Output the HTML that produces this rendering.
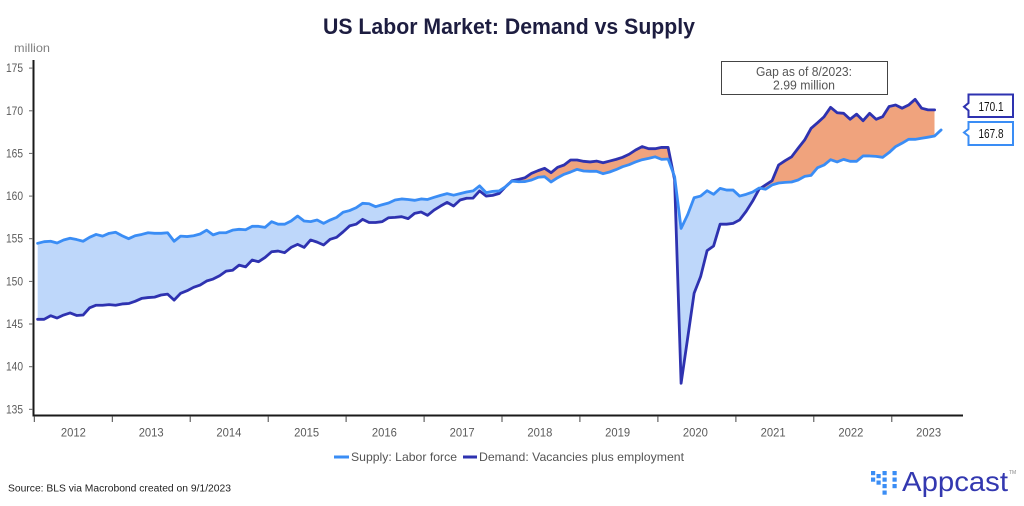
<!DOCTYPE html>
<html>
<head>
<meta charset="utf-8">
<style>
html,body{margin:0;padding:0;background:#fff;}
body{width:1024px;height:506px;overflow:hidden;}
svg{display:block;}
text{font-family:"Liberation Sans",Arial,sans-serif;}
</style>
</head>
<body>
<svg id="c" width="1024" height="506" viewBox="0 0 1024 506" xmlns="http://www.w3.org/2000/svg">
  <defs>
    <clipPath id="clipAboveD"><path id="aboveD" d=""/></clipPath>
    <clipPath id="clipAboveS"><path id="aboveS" d=""/></clipPath>
  </defs>

  <!-- Title -->
  <text x="509" y="34" text-anchor="middle" font-size="22" font-weight="bold" fill="#1d1d40" textLength="372" lengthAdjust="spacingAndGlyphs">US Labor Market: Demand vs Supply</text>

  <!-- unit -->
  <text x="14" y="52" font-size="12" fill="#808080" textLength="36" lengthAdjust="spacingAndGlyphs">million</text>

  <!-- fills -->
  <path id="underS" d="" fill="#bed7fa" clip-path="url(#clipAboveD)"/>
  <path id="underD" d="" fill="#f0a37d" clip-path="url(#clipAboveS)"/>

  <!-- series lines -->
  <path id="demLine" d="" fill="none" stroke="#2e32b0" stroke-width="2.8" stroke-linejoin="round" stroke-linecap="round"/>
  <path id="supLine" d="" fill="none" stroke="#3a8df5" stroke-width="2.8" stroke-linejoin="round" stroke-linecap="round"/>

  <!-- axes -->
  <line x1="33.5" y1="60" x2="33.5" y2="416.5" stroke="#1a1a1a" stroke-width="2"/>
  <line x1="32.5" y1="415.5" x2="963" y2="415.5" stroke="#1a1a1a" stroke-width="2"/>

  <g id="yax" font-size="11.5" fill="#5a5a5a"></g>
  <g id="xax" font-size="11.5" fill="#5a5a5a"></g>

  <!-- Gap annotation -->
  <rect x="721.5" y="61.5" width="166" height="33" fill="#fff" stroke="#444" stroke-width="1"/>
  <text x="804" y="76" text-anchor="middle" font-size="13" fill="#555" textLength="96" lengthAdjust="spacingAndGlyphs">Gap as of 8/2023:</text>
  <text x="804" y="89.5" text-anchor="middle" font-size="13" fill="#555" textLength="62" lengthAdjust="spacingAndGlyphs">2.99 million</text>

  <!-- value callouts -->
  <path d="M968.5,94.5 L1013,94.5 L1013,117 L968.5,117 L968.5,110.5 L964,106.8 L968.5,103 Z" fill="#fff" stroke="#2e32b0" stroke-width="2" stroke-linejoin="miter"/>
  <text x="991" y="110.8" text-anchor="middle" font-size="12.5" fill="#111" textLength="25" lengthAdjust="spacingAndGlyphs">170.1</text>
  <path d="M968.5,122 L1013,122 L1013,145 L968.5,145 L968.5,136 L964,132.5 L968.5,129 Z" fill="#fff" stroke="#3a8df5" stroke-width="2" stroke-linejoin="miter"/>
  <text x="991" y="137.8" text-anchor="middle" font-size="12.5" fill="#111" textLength="25" lengthAdjust="spacingAndGlyphs">167.8</text>

  <!-- legend -->
  <rect x="334" y="455.5" width="15" height="3" fill="#3a8df5"/>
  <text x="351" y="461" font-size="12" fill="#555" textLength="106" lengthAdjust="spacingAndGlyphs">Supply: Labor force</text>
  <rect x="463" y="455.5" width="14" height="3" fill="#2e32b0"/>
  <text x="479" y="461" font-size="12" fill="#555" textLength="205" lengthAdjust="spacingAndGlyphs">Demand: Vacancies plus employment</text>

  <!-- source -->
  <text x="8" y="491.5" font-size="10" fill="#222" textLength="223" lengthAdjust="spacingAndGlyphs">Source: BLS via Macrobond created on 9/1/2023</text>

  <!-- Appcast logo -->
  <g fill="#3a8df5">
    <rect x="871" y="471" width="4.2" height="4.2"/>
    <rect x="871" y="477.5" width="4.2" height="4.2"/>
    <rect x="876.5" y="474" width="4.2" height="4.2"/>
    <rect x="876.5" y="480.5" width="4.2" height="4.2"/>
    <rect x="882.5" y="471" width="4.2" height="4.2"/>
    <rect x="882.5" y="477.5" width="4.2" height="4.2"/>
    <rect x="882.5" y="484" width="4.2" height="4.2"/>
    <rect x="882.5" y="490.5" width="4.2" height="4.2"/>
    <rect x="892.5" y="471" width="4.2" height="4.2"/>
    <rect x="892.5" y="477.5" width="4.2" height="4.2"/>
    <rect x="892.5" y="484" width="4.2" height="4.2"/>
  </g>
  <text x="902" y="491" font-size="28" fill="#3338b0" textLength="106" lengthAdjust="spacingAndGlyphs">Appcast</text>
  <text x="1009" y="474" font-size="5" fill="#888">TM</text>
</svg>

<script>
(function(){
var S=[154.46,154.65,154.7,154.5,154.85,155.05,154.9,154.7,155.16,155.5,155.3,155.63,
155.75,155.35,155.0,155.35,155.5,155.7,155.63,155.63,155.7,154.7,155.3,155.25,
155.35,155.55,156.0,155.45,155.7,155.7,156.0,156.1,156.05,156.45,156.45,156.33,
157.0,156.7,156.7,157.07,157.66,157.07,157.0,157.19,156.8,157.19,157.5,158.1,
158.3,158.63,159.15,159.1,158.75,158.98,159.18,159.54,159.66,159.6,159.5,159.66,
159.6,159.85,160.08,160.28,160.1,160.28,160.47,160.6,161.2,160.4,160.55,160.6,
161.1,161.75,161.68,161.7,161.88,162.2,162.27,161.65,162.15,162.55,162.82,163.13,
162.94,162.9,162.9,162.62,162.82,163.1,163.44,163.68,164.0,164.26,164.42,164.6,
164.3,164.34,162.27,156.2,157.8,159.8,160.0,160.63,160.2,160.9,160.7,160.7,
160.0,160.2,160.47,160.94,160.8,161.3,161.53,161.6,161.65,161.88,162.3,162.43,
163.33,163.64,164.26,164.0,164.3,164.07,164.07,164.7,164.7,164.65,164.54,165.1,
165.8,166.2,166.65,166.65,166.77,166.9,167.04,167.75];
var D=[145.55,145.55,145.97,145.7,146.05,146.3,146.0,146.05,146.9,147.2,147.2,147.27,
147.2,147.35,147.4,147.66,148.0,148.1,148.15,148.4,148.5,147.8,148.6,148.9,
149.3,149.57,150.04,150.27,150.66,151.2,151.3,151.9,151.7,152.5,152.3,152.8,
153.47,153.55,153.36,153.98,154.34,153.98,154.85,154.6,154.26,154.93,155.16,155.8,
156.5,156.7,157.27,156.9,156.9,157.0,157.46,157.5,157.58,157.35,157.97,158.13,
157.74,158.36,158.83,159.26,158.83,159.54,159.74,159.76,160.6,160.0,160.08,160.3,
161.1,161.8,161.96,162.15,162.67,162.98,163.25,162.74,163.37,163.64,164.23,164.23,
164.07,164.0,164.1,163.9,164.1,164.3,164.54,164.9,165.4,165.8,165.55,165.55,
165.7,165.7,161.9,138.05,143.3,148.6,150.55,153.6,154.15,156.7,156.7,156.8,
157.2,158.2,159.4,160.8,161.3,161.8,163.64,164.15,164.6,165.6,166.57,167.94,
168.6,169.3,170.4,169.77,169.7,169.0,169.6,168.83,169.7,169.0,169.3,170.5,
170.67,170.3,170.67,171.34,170.3,170.1,170.1];
function X(i){return 37.6+6.5*i;}
function Y(v){return 409.3-(v-135)*8.53;}
function pts(a,n){var r=[];for(var i=0;i<n;i++){r.push(X(i).toFixed(2)+','+Y(a[i]).toFixed(2));}return r.join(' L');}
var n=139;
var xe=X(n-1).toFixed(2), x0=X(0).toFixed(2);
document.getElementById('supLine').setAttribute('d','M'+pts(S,140));
document.getElementById('demLine').setAttribute('d','M'+pts(D,139));
document.getElementById('underS').setAttribute('d','M'+pts(S,n)+' L'+xe+',500 L'+x0+',500 Z');
document.getElementById('underD').setAttribute('d','M'+pts(D,n)+' L'+xe+',500 L'+x0+',500 Z');
document.getElementById('aboveD').setAttribute('d','M'+pts(D,n)+' L'+xe+',0 L'+x0+',0 Z');
document.getElementById('aboveS').setAttribute('d','M'+pts(S,n)+' L'+xe+',0 L'+x0+',0 Z');

var ns='http://www.w3.org/2000/svg';
var yg=document.getElementById('yax');
for(var v=135;v<=175;v+=5){
  var y=Y(v);
  var l=document.createElementNS(ns,'line');
  l.setAttribute('x1','29');l.setAttribute('x2','33');
  l.setAttribute('y1',y.toFixed(1));l.setAttribute('y2',y.toFixed(1));
  l.setAttribute('stroke','#666');l.setAttribute('stroke-width','1');
  yg.appendChild(l);
  var t=document.createElementNS(ns,'text');
  t.setAttribute('x','23');t.setAttribute('y',(y+4).toFixed(1));
  t.setAttribute('text-anchor','end');
  t.setAttribute('textLength','17');t.setAttribute('lengthAdjust','spacingAndGlyphs');
  t.textContent=String(v);
  yg.appendChild(t);
}
var xg=document.getElementById('xax');
for(var k=0;k<12;k++){
  var tx=34.3+77.95*k;
  var l2=document.createElementNS(ns,'line');
  l2.setAttribute('x1',tx.toFixed(1));l2.setAttribute('x2',tx.toFixed(1));
  l2.setAttribute('y1','416');l2.setAttribute('y2','422');
  l2.setAttribute('stroke','#444');l2.setAttribute('stroke-width','1');
  xg.appendChild(l2);
  var t2=document.createElementNS(ns,'text');
  t2.setAttribute('x',(73.4+77.75*k).toFixed(1));t2.setAttribute('y','436.5');
  t2.setAttribute('text-anchor','middle');
  t2.setAttribute('textLength','25');t2.setAttribute('lengthAdjust','spacingAndGlyphs');
  t2.textContent=String(2012+k);
  xg.appendChild(t2);
}
})();
</script>
</body>
</html>
